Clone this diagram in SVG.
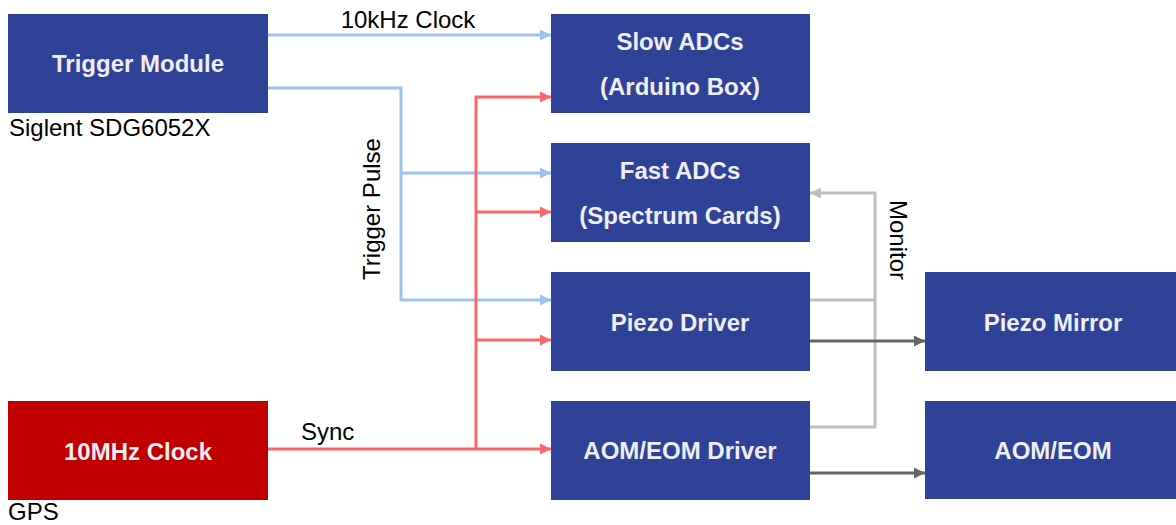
<svg xmlns="http://www.w3.org/2000/svg" width="1176" height="525" viewBox="0 0 1176 525">
<style>
.box{fill:#2F4297}
.red{fill:#C00000}
.t{font-family:"Liberation Sans",Arial,sans-serif;font-weight:bold;font-size:24px;fill:#EEEEF4;text-anchor:middle}
.l{font-family:"Liberation Sans",Arial,sans-serif;font-size:24px;fill:#000}
.c{fill:none;stroke-width:3}
.b{stroke:#9DC3F0}
.r{stroke:#F86868}
.g{stroke:#BFBFBF}
.d{stroke:#666666}
</style>
<defs>
<marker id="ab" markerUnits="userSpaceOnUse" markerWidth="12" markerHeight="12" refX="11" refY="6" orient="auto"><path d="M0,0.5 L11,6 L0,11.5 z" fill="#9DC3F0"/></marker>
<marker id="ar" markerUnits="userSpaceOnUse" markerWidth="12" markerHeight="12" refX="11" refY="6" orient="auto"><path d="M0,0.5 L11,6 L0,11.5 z" fill="#F86868"/></marker>
<marker id="ag" markerUnits="userSpaceOnUse" markerWidth="12" markerHeight="12" refX="11" refY="6" orient="auto"><path d="M0,0.5 L11,6 L0,11.5 z" fill="#BFBFBF"/></marker>
<marker id="ad" markerUnits="userSpaceOnUse" markerWidth="12" markerHeight="12" refX="11" refY="6" orient="auto"><path d="M0,0.5 L11,6 L0,11.5 z" fill="#666666"/></marker>
</defs>
<rect width="1176" height="525" fill="#fff"/>
<g id="connectors">
<path class="c b" d="M268,35 H551" marker-end="url(#ab)"/>
<path class="c b" d="M268,88 H401 V300 H551" marker-end="url(#ab)"/>
<path class="c b" d="M401,173 H551" marker-end="url(#ab)"/>
<path class="c r" d="M268,449 H551" marker-end="url(#ar)"/>
<path class="c r" d="M476,449 V97 H551" marker-end="url(#ar)"/>
<path class="c r" d="M476,212 H551" marker-end="url(#ar)"/>
<path class="c r" d="M476,340 H551" marker-end="url(#ar)"/>
<path class="c g" d="M810,300 H875"/>
<path class="c g" d="M810,427 H875 V193 H810" marker-end="url(#ag)"/>
<path class="c d" d="M810,341 H925" marker-end="url(#ad)"/>
<path class="c d" d="M810,473 H925" marker-end="url(#ad)"/>
<text class="l" x="408" y="28" text-anchor="middle">10kHz Clock</text>
<text class="l" x="301" y="440">Sync</text>
<text class="l" transform="translate(380,209) rotate(-90)" text-anchor="middle">Trigger Pulse</text>
<text class="l" transform="translate(890,240) rotate(90)" text-anchor="middle">Monitor</text>
</g>
<g id="trigger">
<rect class="box" x="8" y="14" width="260" height="99"/>
<text class="t" x="138" y="72">Trigger Module</text>
<text class="l" x="9" y="136">Siglent SDG6052X</text>
</g>
<g id="clock">
<rect class="red" x="8" y="401" width="260" height="99"/>
<text class="t" x="138" y="460">10MHz Clock</text>
<text class="l" x="8" y="520">GPS</text>
</g>
<g id="slow">
<rect class="box" x="551" y="14" width="259" height="99"/>
<text class="t" x="680" y="50">Slow ADCs</text>
<text class="t" x="680" y="95">(Arduino Box)</text>
</g>
<g id="fast">
<rect class="box" x="551" y="143" width="259" height="99"/>
<text class="t" x="680" y="179">Fast ADCs</text>
<text class="t" x="680" y="224">(Spectrum Cards)</text>
</g>
<g id="piezodriver">
<rect class="box" x="551" y="272" width="259" height="99"/>
<text class="t" x="680" y="331">Piezo Driver</text>
</g>
<g id="aomdriver">
<rect class="box" x="551" y="401" width="259" height="99"/>
<text class="t" x="680" y="459">AOM/EOM Driver</text>
</g>
<g id="mirror">
<rect class="box" x="925" y="272" width="251" height="99"/>
<text class="t" x="1053" y="331">Piezo Mirror</text>
</g>
<g id="aom">
<rect class="box" x="925" y="401" width="251" height="98"/>
<text class="t" x="1053" y="459">AOM/EOM</text>
</g>
</svg>
